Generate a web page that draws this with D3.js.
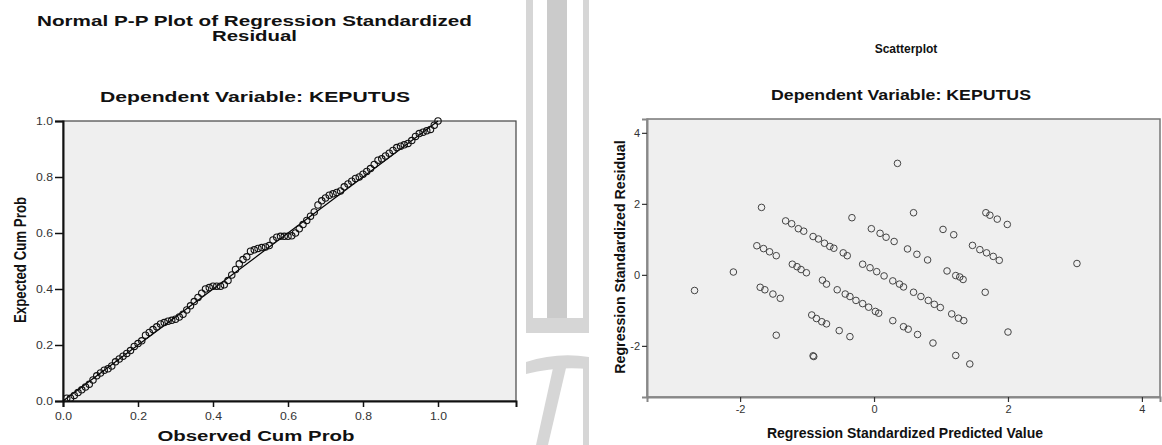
<!DOCTYPE html>
<html>
<head>
<meta charset="utf-8">
<script src="https://cdn.jsdelivr.net/npm/d3@7"></script>
<style>
  body { margin: 0; background: #fff; }
  svg { display: block; }
  text { font-family: "Liberation Sans", Arial, sans-serif; }
</style>
</head>
<body>
<div id="chart"></div>
<script>
// Normal P-P plot: observed vs expected cumulative probability
const ppObserved = [0.01,0.02,0.03,0.04,0.05,0.06,0.07,0.08,0.09,0.10,
  0.11,0.12,0.13,0.14,0.15,0.16,0.17,0.18,0.19,0.20,
  0.21,0.22,0.23,0.24,0.25,0.26,0.27,0.28,0.29,0.30,
  0.31,0.32,0.33,0.34,0.35,0.36,0.37,0.38,0.39,0.40,
  0.41,0.42,0.43,0.44,0.45,0.46,0.47,0.48,0.49,0.50,
  0.51,0.52,0.53,0.54,0.55,0.56,0.57,0.58,0.59,0.60,
  0.61,0.62,0.63,0.64,0.65,0.66,0.67,0.68,0.69,0.70,
  0.71,0.72,0.73,0.74,0.75,0.76,0.77,0.78,0.79,0.80,
  0.81,0.82,0.83,0.84,0.85,0.86,0.87,0.88,0.89,0.90,
  0.91,0.92,0.93,0.94,0.95,0.96,0.97,0.98,0.99,1.00];
const ppExpected = [0.01,0.01,0.02,0.03,0.04,0.05,0.06,0.075,0.09,0.10,
  0.11,0.115,0.125,0.14,0.15,0.16,0.17,0.18,0.195,0.205,
  0.215,0.235,0.245,0.255,0.265,0.275,0.28,0.285,0.288,0.292,
  0.30,0.31,0.325,0.34,0.355,0.37,0.385,0.40,0.405,0.41,
  0.41,0.41,0.415,0.43,0.45,0.47,0.49,0.505,0.515,0.535,
  0.54,0.545,0.548,0.55,0.555,0.575,0.585,0.588,0.588,0.588,
  0.59,0.60,0.615,0.63,0.645,0.66,0.675,0.70,0.715,0.725,
  0.735,0.74,0.745,0.75,0.765,0.775,0.785,0.795,0.80,0.81,
  0.82,0.83,0.845,0.86,0.865,0.875,0.885,0.895,0.905,0.91,
  0.915,0.92,0.93,0.945,0.955,0.96,0.965,0.97,0.985,1.00];
const ppTicks = [0, 0.2, 0.4, 0.6, 0.8, 1.0];

// Scatterplot: standardized predicted value vs standardized residual
const predictedValues = [-1.68,-1.32,-1.23,-1.13,-1.05,-0.91,-0.83,-0.74,-0.66,-0.60,
  -0.46,-0.40,-0.33,-0.04,0.09,0.18,0.30,0.50,0.64,0.80,
  0.35,0.59,1.03,1.19,1.67,1.73,1.84,1.99,1.47,1.58,
  1.68,1.78,1.87,3.03,
  -1.75,-1.65,-1.56,-1.46,-2.10,-2.68,-1.22,-1.15,-1.09,-1.01,
  -0.77,-0.71,-0.55,-0.43,-0.36,-0.27,-0.17,-0.08,0.02,0.07,
  -0.17,-0.06,0.04,0.15,0.28,0.38,0.44,0.59,0.70,0.81,
  0.90,0.99,1.09,1.22,1.28,1.33,1.66,2.00,
  -1.70,-1.63,-1.51,-1.40,-0.93,-0.86,-0.78,-0.71,-0.52,-0.36,
  0.28,0.44,0.51,0.65,1.16,1.26,1.34,-1.46,-0.91,-0.90,
  0.88,1.22,1.43];
const residualValues = [1.90,1.52,1.44,1.30,1.23,1.08,1.01,0.89,0.80,0.75,
  0.62,0.54,1.61,1.30,1.17,1.06,0.94,0.73,0.58,0.42,
  3.14,1.75,1.28,1.13,1.75,1.68,1.57,1.42,0.83,0.71,
  0.62,0.52,0.41,0.32,
  0.82,0.74,0.65,0.54,0.08,-0.44,0.30,0.23,0.15,0.06,
  -0.15,-0.26,-0.42,-0.54,-0.61,-0.72,-0.81,-0.91,-1.03,-1.08,
  0.30,0.20,0.09,-0.03,-0.17,-0.26,-0.34,-0.49,-0.61,-0.72,
  -0.83,-0.92,0.11,-0.02,-0.06,-0.13,-0.49,-1.61,
  -0.35,-0.42,-0.54,-0.66,-1.13,-1.23,-1.32,-1.38,-1.57,-1.74,
  -1.29,-1.46,-1.53,-1.68,-1.10,-1.22,-1.29,-1.70,-2.28,-2.30,
  -1.92,-2.27,-2.51];
const scatterTicks = [-2, 0, 2, 4];

const width = 1162, height = 445;
const svg = d3.select("#chart").append("svg")
  .attr("width", width)
  .attr("height", height);

// ---- background watermark (grey pillars in the middle) ----
const wm = svg.append("g");
wm.append("rect").attr("x", 526).attr("y", 0).attr("width", 7).attr("height", 333).attr("fill", "#d6d6d6");
wm.append("rect").attr("x", 547).attr("y", 0).attr("width", 20).attr("height", 333).attr("fill", "#cbcbcb");
wm.append("rect").attr("x", 583).attr("y", 0).attr("width", 6).attr("height", 333).attr("fill", "#d6d6d6");
wm.append("rect").attr("x", 526).attr("y", 318).attr("width", 63).attr("height", 15).attr("fill", "#d6d6d6");
wm.append("path").attr("d", "M526,362 Q557,352 589,357 L589,369 Q557,366 526,374 Z").attr("fill", "#d6d6d6");
wm.append("path").attr("d", "M553,368 L566,368 L548,445 L536,445 Z").attr("fill", "#d6d6d6");
wm.append("rect").attr("x", 583).attr("y", 367).attr("width", 6).attr("height", 78).attr("fill", "#d6d6d6");

// ================= Left: Normal P-P plot =================
const xP = d3.scaleLinear().domain([0, 1.208]).range([63, 516]);
const yP = d3.scaleLinear().domain([0, 1]).range([401, 121]);

const left = svg.append("g");
left.append("rect")
  .attr("x", xP(0)).attr("y", yP(1))
  .attr("width", xP(1.208) - xP(0)).attr("height", yP(0) - yP(1))
  .attr("fill", "#efefef").attr("stroke", "#444").attr("stroke-width", 1.2);

const ppX = left.append("g")
  .attr("transform", `translate(0, ${yP(0)})`)
  .call(d3.axisBottom(xP).tickValues(ppTicks).tickFormat(d3.format(".1f")).tickSize(6).tickPadding(5));
const ppY = left.append("g")
  .attr("transform", `translate(${xP(0)}, 0)`)
  .call(d3.axisLeft(yP).tickValues(ppTicks).tickFormat(d3.format(".1f")).tickSize(8).tickPadding(2));
[ppX, ppY].forEach(ax => {
  ax.select(".domain").attr("stroke", "#111").attr("stroke-width", 2);
  ax.selectAll(".tick line").attr("stroke", "#111").attr("stroke-width", 1.5);
  ax.selectAll(".tick text")
    .attr("font-size", 11).attr("fill", "#333")
    .attr("textLength", 17).attr("lengthAdjust", "spacingAndGlyphs");
});

// diagonal reference line
left.append("line")
  .attr("x1", xP(0)).attr("y1", yP(0))
  .attr("x2", xP(1)).attr("y2", yP(1))
  .attr("stroke", "#000").attr("stroke-width", 1.2);

left.append("g").selectAll("circle")
  .data(ppObserved.map((d, i) => [d, ppExpected[i]]))
  .enter().append("circle")
  .attr("cx", d => xP(d[0]))
  .attr("cy", d => yP(d[1]))
  .attr("r", 3.2)
  .attr("fill", "none")
  .attr("stroke", "#111")
  .attr("stroke-width", 1.1);

function stretchedText(g, str, x, y, size, len) {
  return g.append("text")
    .attr("x", x).attr("y", y)
    .attr("text-anchor", "middle")
    .attr("font-weight", "bold")
    .attr("font-size", size)
    .attr("fill", "#111")
    .attr("textLength", len)
    .attr("lengthAdjust", "spacingAndGlyphs")
    .text(str);
}

stretchedText(left, "Normal P-P Plot of Regression Standardized", 254.5, 26, 15, 435);
stretchedText(left, "Residual", 254.5, 41, 15, 85);
stretchedText(left, "Dependent Variable: KEPUTUS", 255, 102, 15.5, 310);
stretchedText(left, "Observed Cum Prob", 256, 441, 14, 197);
left.append("text")
  .attr("transform", "translate(20, 260) scale(1.3, 1) rotate(-90)")
  .attr("text-anchor", "middle")
  .attr("dy", "0.35em")
  .attr("font-weight", "bold")
  .attr("font-size", 13.3)
  .attr("fill", "#111")
  .text("Expected Cum Prob");

// ================= Right: Scatterplot =================
const xS = d3.scaleLinear().domain([-3.39, 4.27]).range([647, 1160]);
const yS = d3.scaleLinear().domain([-3.44, 4.39]).range([397, 119]);

const right = svg.append("g");
right.append("rect")
  .attr("x", xS(-3.39)).attr("y", yS(4.39))
  .attr("width", xS(4.27) - xS(-3.39)).attr("height", yS(-3.44) - yS(4.39))
  .attr("fill", "#efefef").attr("stroke", "#777").attr("stroke-width", 1.5);

// SPSS prints a plain hyphen for negative ticks
const plainInt = d => String(d);
const scX = right.append("g")
  .attr("transform", `translate(0, ${yS(-3.44)})`)
  .call(d3.axisBottom(xS).tickValues(scatterTicks).tickFormat(plainInt).tickSize(5).tickPadding(3));
const scY = right.append("g")
  .attr("transform", `translate(${xS(-3.39)}, 0)`)
  .call(d3.axisLeft(yS).tickValues(scatterTicks).tickFormat(plainInt).tickSize(5).tickPadding(2));
[scX, scY].forEach(ax => {
  ax.select(".domain").attr("stroke", "#888").attr("stroke-width", 2);
  ax.selectAll(".tick line").attr("stroke", "#333").attr("stroke-width", 1.2);
  ax.selectAll(".tick text").attr("font-size", 11).attr("fill", "#333");
});

right.append("g").selectAll("circle")
  .data(predictedValues.map((d, i) => [d, residualValues[i]]))
  .enter().append("circle")
  .attr("cx", d => xS(d[0]))
  .attr("cy", d => yS(d[1]))
  .attr("r", 3.3)
  .attr("fill", "none")
  .attr("stroke", "#444")
  .attr("stroke-width", 1);

right.append("text")
  .attr("x", 906).attr("y", 53)
  .attr("text-anchor", "middle")
  .attr("font-weight", "bold").attr("font-size", 12).attr("fill", "#111")
  .text("Scatterplot");
stretchedText(right, "Dependent Variable: KEPUTUS", 901, 100, 15, 260);
right.append("text")
  .attr("x", 905).attr("y", 438)
  .attr("text-anchor", "middle")
  .attr("font-weight", "bold").attr("font-size", 14).attr("fill", "#111")
  .text("Regression Standardized Predicted Value");
right.append("text")
  .attr("transform", "translate(620, 257) rotate(-90)")
  .attr("text-anchor", "middle")
  .attr("dy", "0.35em")
  .attr("font-weight", "bold").attr("font-size", 14.2).attr("fill", "#111")
  .text("Regression Standardized Residual");
</script>
</body>
</html>
